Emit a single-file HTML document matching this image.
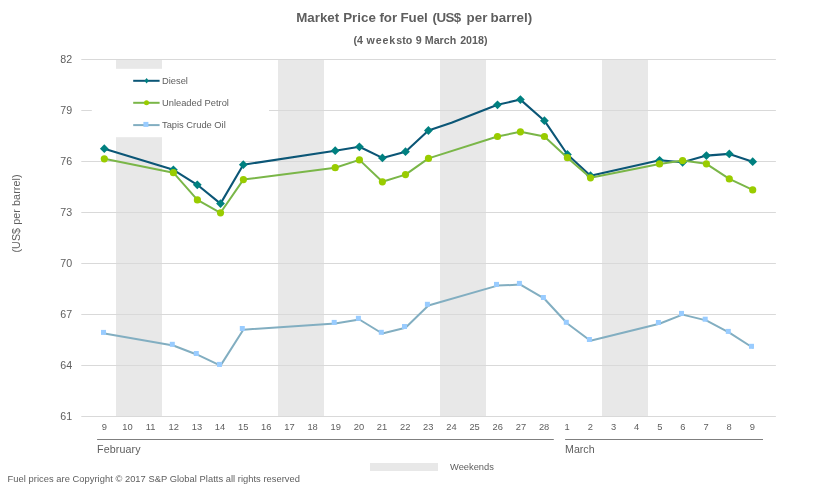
<!DOCTYPE html>
<html lang="en">
<head>
<meta charset="utf-8">
<title>Market Price for Fuel (US$ per barrel)</title>
<style>
html,body{margin:0;padding:0;background:#fff;}
body{width:830px;height:494px;overflow:hidden;}
svg{display:block;font-family:"Liberation Sans",Arial,sans-serif;}
</style>
</head>
<body>
<svg width="830" height="494" viewBox="0 0 830 494">
<rect x="0" y="0" width="830" height="494" fill="#ffffff"/>
<g fill="#e8e8e8">
<rect x="116" y="59" width="46" height="357"/>
<rect x="278" y="59" width="46" height="357"/>
<rect x="440" y="59" width="46" height="357"/>
<rect x="602" y="59" width="46" height="357"/>
</g>
<g stroke="#d9d9d9" stroke-width="1" fill="none">
<line x1="81.3" y1="59.5" x2="775.9" y2="59.5"/>
<line x1="81.3" y1="110.5" x2="775.9" y2="110.5"/>
<line x1="81.3" y1="161.5" x2="775.9" y2="161.5"/>
<line x1="81.3" y1="212.5" x2="775.9" y2="212.5"/>
<line x1="81.3" y1="263.5" x2="775.9" y2="263.5"/>
<line x1="81.3" y1="314.5" x2="775.9" y2="314.5"/>
<line x1="81.3" y1="365.5" x2="775.9" y2="365.5"/>
<line x1="81.3" y1="416.5" x2="775.9" y2="416.5"/>
</g>
<rect x="91.8" y="68.8" width="177.2" height="68.4" fill="#ffffff"/>
<g font-size="10.67" fill="#5e5e5e" text-anchor="end">
<text x="72.2" y="63.0">82</text>
<text x="72.2" y="114.0">79</text>
<text x="72.2" y="165.0">76</text>
<text x="72.2" y="216.0">73</text>
<text x="72.2" y="267.0">70</text>
<text x="72.2" y="318.0">67</text>
<text x="72.2" y="369.0">64</text>
<text x="72.2" y="420.0">61</text>
</g>
<g font-size="9.33" fill="#5e5e5e" text-anchor="middle">
<text x="104.3" y="430">9</text>
<text x="127.4" y="430">10</text>
<text x="150.6" y="430">11</text>
<text x="173.7" y="430">12</text>
<text x="196.9" y="430">13</text>
<text x="220.0" y="430">14</text>
<text x="243.2" y="430">15</text>
<text x="266.3" y="430">16</text>
<text x="289.5" y="430">17</text>
<text x="312.6" y="430">18</text>
<text x="335.8" y="430">19</text>
<text x="358.9" y="430">20</text>
<text x="382.0" y="430">21</text>
<text x="405.2" y="430">22</text>
<text x="428.3" y="430">23</text>
<text x="451.5" y="430">24</text>
<text x="474.6" y="430">25</text>
<text x="497.8" y="430">26</text>
<text x="520.9" y="430">27</text>
<text x="544.1" y="430">28</text>
<text x="567.2" y="430">1</text>
<text x="590.3" y="430">2</text>
<text x="613.5" y="430">3</text>
<text x="636.6" y="430">4</text>
<text x="659.8" y="430">5</text>
<text x="682.9" y="430">6</text>
<text x="706.1" y="430">7</text>
<text x="729.2" y="430">8</text>
<text x="752.4" y="430">9</text>
</g>
<g stroke="#7f7f7f" stroke-width="1" fill="none">
<line x1="97.1" y1="439.5" x2="553.8" y2="439.5"/>
<line x1="565.1" y1="439.5" x2="763" y2="439.5"/>
</g>
<g font-size="10.67" fill="#5e5e5e">
<text x="97" y="452.8" textLength="43.6" lengthAdjust="spacing">February</text>
<text x="565" y="452.8">March</text>
</g>
<text y="22.4" font-size="13.33" font-weight="bold" fill="#5e5e5e"><tspan x="296.2">Market</tspan> <tspan x="343.2">Price</tspan> <tspan x="379.4">for</tspan> <tspan x="400.4">Fuel</tspan> <tspan x="432.6" textLength="28.6" lengthAdjust="spacing">(US$</tspan> <tspan x="466.6">per</tspan> <tspan x="490.6">barrel)</tspan></text>
<text y="44.4" font-size="10.67" font-weight="bold" fill="#5e5e5e"><tspan x="353.5">(4</tspan> <tspan x="366.5" textLength="35.6" lengthAdjust="spacing">weeks</tspan> <tspan x="402.3">to</tspan> <tspan x="415.8">9</tspan> <tspan x="424.8">March</tspan> <tspan x="460.2">2018)</tspan></text>
<text transform="translate(19.5,213.5) rotate(-90)" font-size="10.67" fill="#5e5e5e" text-anchor="middle" textLength="78.2" lengthAdjust="spacing">(US$ per barrel)</text>
<text x="7.6" y="482.1" font-size="9.33" fill="#5e5e5e" textLength="292.4" lengthAdjust="spacing">Fuel prices are Copyright © 2017 S&amp;P Global Platts all rights reserved</text>
<rect x="370" y="463" width="68" height="8" fill="#e8e8e8"/>
<text x="450" y="469.9" font-size="9.33" fill="#5e5e5e">Weekends</text>
<g fill="none">
<line x1="133.2" y1="80.8" x2="159.6" y2="80.8" stroke="#0b5676" stroke-width="2"/>
<line x1="133.2" y1="102.8" x2="159.6" y2="102.8" stroke="#7ab648" stroke-width="2"/>
<line x1="133.2" y1="125.1" x2="159.6" y2="125.1" stroke="#82aec1" stroke-width="2"/>
</g>
<path d="M146.6 78l2.1 2.8l-2.1 2.8l-2.1-2.8z" fill="#008080"/>
<circle cx="146.5" cy="102.8" r="2.5" fill="#99cc00"/>
<rect x="143.4" y="121.9" width="5" height="5" fill="#99ccff"/>
<g font-size="9.33" fill="#5e5e5e">
<text x="162" y="83.6">Diesel</text>
<text x="162" y="105.7">Unleaded Petrol</text>
<text x="162" y="128.1">Tapis Crude Oil</text>
</g>
<polyline points="104.5,333.6 173.3,345.5 197.3,354.7 220.5,365.6 243.3,329.7 335.2,323.6 359.4,319.5 382.3,333.5 405.5,327.7 428.4,305.5 497.5,285.6 520.4,284.6 544.4,298.7 567.3,323.5 590.4,340.7 659.4,323.7 682.5,314.6 706.2,320.4 729.3,332.6 752.5,347.5" fill="none" stroke="#82aec1" stroke-width="2" stroke-linejoin="round" stroke-linecap="round"/>
<g fill="#99ccff">
<rect x="101.0" y="329.9" width="5" height="5"/>
<rect x="169.8" y="341.8" width="5" height="5"/>
<rect x="193.8" y="351.0" width="5" height="5"/>
<rect x="217.0" y="361.9" width="5" height="5"/>
<rect x="239.8" y="326.0" width="5" height="5"/>
<rect x="331.7" y="319.9" width="5" height="5"/>
<rect x="355.9" y="315.8" width="5" height="5"/>
<rect x="378.8" y="329.8" width="5" height="5"/>
<rect x="402.0" y="324.0" width="5" height="5"/>
<rect x="424.9" y="301.8" width="5" height="5"/>
<rect x="494.0" y="281.9" width="5" height="5"/>
<rect x="516.9" y="280.9" width="5" height="5"/>
<rect x="540.9" y="295.0" width="5" height="5"/>
<rect x="563.8" y="319.8" width="5" height="5"/>
<rect x="586.9" y="337.0" width="5" height="5"/>
<rect x="655.9" y="320.0" width="5" height="5"/>
<rect x="679.0" y="310.9" width="5" height="5"/>
<rect x="702.7" y="316.7" width="5" height="5"/>
<rect x="725.8" y="328.9" width="5" height="5"/>
<rect x="749.0" y="343.8" width="5" height="5"/>
</g>
<polyline points="104.3,148.7 173.4,169.8 197.3,184.8 220.5,203.6 243.3,164.7 335.2,150.7 359.4,146.8 382.4,157.9 405.5,151.7 428.4,130.5 451.5,122.8 497.5,104.8 520.4,99.6 544.4,120.7 567.4,154.5 590.5,175.7 659.6,160.3 682.6,162.3 706.4,155.6 729.3,153.9 752.7,161.7" fill="none" stroke="#0b5676" stroke-width="2.1" stroke-linejoin="round" stroke-linecap="round"/>
<g fill="#008080">
<path d="M104.3 144.3l4.4 4.4l-4.4 4.4l-4.4 -4.4z"/>
<path d="M173.4 165.4l4.4 4.4l-4.4 4.4l-4.4 -4.4z"/>
<path d="M197.3 180.4l4.4 4.4l-4.4 4.4l-4.4 -4.4z"/>
<path d="M220.5 199.2l4.4 4.4l-4.4 4.4l-4.4 -4.4z"/>
<path d="M243.3 160.3l4.4 4.4l-4.4 4.4l-4.4 -4.4z"/>
<path d="M335.2 146.3l4.4 4.4l-4.4 4.4l-4.4 -4.4z"/>
<path d="M359.4 142.4l4.4 4.4l-4.4 4.4l-4.4 -4.4z"/>
<path d="M382.4 153.5l4.4 4.4l-4.4 4.4l-4.4 -4.4z"/>
<path d="M405.5 147.3l4.4 4.4l-4.4 4.4l-4.4 -4.4z"/>
<path d="M428.4 126.1l4.4 4.4l-4.4 4.4l-4.4 -4.4z"/>
<path d="M497.5 100.4l4.4 4.4l-4.4 4.4l-4.4 -4.4z"/>
<path d="M520.4 95.2l4.4 4.4l-4.4 4.4l-4.4 -4.4z"/>
<path d="M544.4 116.3l4.4 4.4l-4.4 4.4l-4.4 -4.4z"/>
<path d="M567.4 150.1l4.4 4.4l-4.4 4.4l-4.4 -4.4z"/>
<path d="M590.5 171.3l4.4 4.4l-4.4 4.4l-4.4 -4.4z"/>
<path d="M659.6 155.9l4.4 4.4l-4.4 4.4l-4.4 -4.4z"/>
<path d="M682.6 157.9l4.4 4.4l-4.4 4.4l-4.4 -4.4z"/>
<path d="M706.4 151.2l4.4 4.4l-4.4 4.4l-4.4 -4.4z"/>
<path d="M729.3 149.5l4.4 4.4l-4.4 4.4l-4.4 -4.4z"/>
<path d="M752.7 157.3l4.4 4.4l-4.4 4.4l-4.4 -4.4z"/>
</g>
<polyline points="104.3,158.8 173.4,172.7 197.4,199.9 220.5,212.8 243.4,179.6 335.2,167.7 359.4,159.9 382.4,181.8 405.5,174.6 428.5,158.4 497.5,136.5 520.4,131.8 544.4,136.5 567.4,157.7 590.5,177.8 659.5,163.9 682.6,160.6 706.4,163.8 729.3,178.9 752.7,189.9" fill="none" stroke="#7ab648" stroke-width="2" stroke-linejoin="round" stroke-linecap="round"/>
<g fill="#99cc00">
<circle cx="104.3" cy="158.8" r="3.6"/>
<circle cx="173.4" cy="172.7" r="3.6"/>
<circle cx="197.4" cy="199.9" r="3.6"/>
<circle cx="220.5" cy="212.8" r="3.6"/>
<circle cx="243.4" cy="179.6" r="3.6"/>
<circle cx="335.2" cy="167.7" r="3.6"/>
<circle cx="359.4" cy="159.9" r="3.6"/>
<circle cx="382.4" cy="181.8" r="3.6"/>
<circle cx="405.5" cy="174.6" r="3.6"/>
<circle cx="428.5" cy="158.4" r="3.6"/>
<circle cx="497.5" cy="136.5" r="3.6"/>
<circle cx="520.4" cy="131.8" r="3.6"/>
<circle cx="544.4" cy="136.5" r="3.6"/>
<circle cx="567.4" cy="157.7" r="3.6"/>
<circle cx="590.5" cy="177.8" r="3.6"/>
<circle cx="659.5" cy="163.9" r="3.6"/>
<circle cx="682.6" cy="160.6" r="3.6"/>
<circle cx="706.4" cy="163.8" r="3.6"/>
<circle cx="729.3" cy="178.9" r="3.6"/>
<circle cx="752.7" cy="189.9" r="3.6"/>
</g>
</svg>
</body>
</html>
